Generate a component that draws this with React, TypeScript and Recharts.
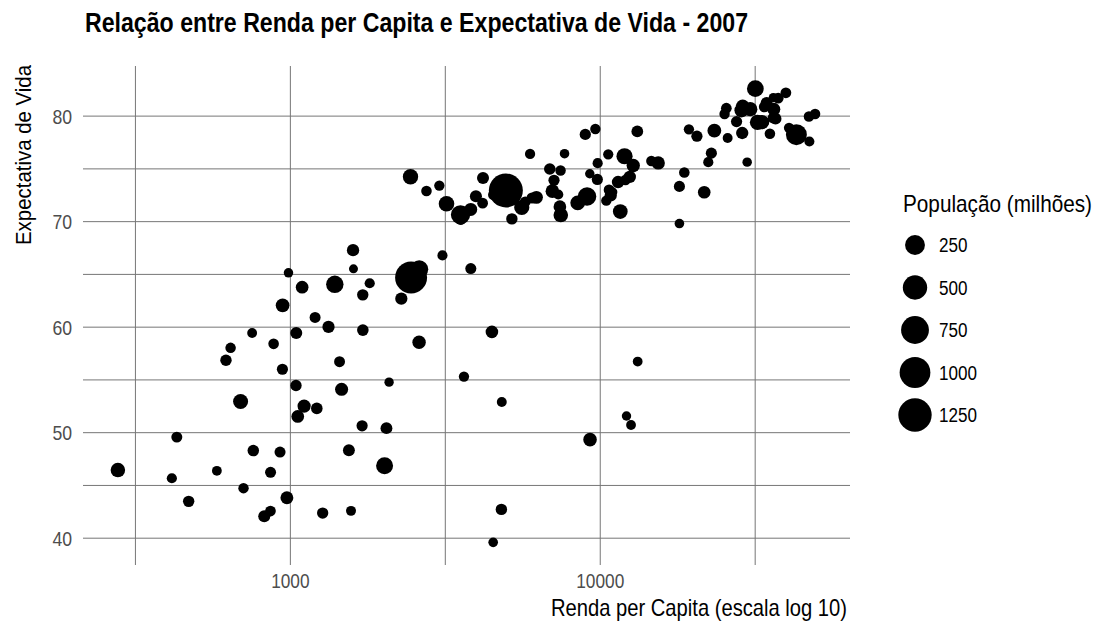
import React from "react";
import {
  ScatterChart,
  Scatter,
  XAxis,
  YAxis,
  CartesianGrid,
  Label,
} from "recharts";

const FONT = "'Liberation Sans', Arial, sans-serif";

// gapminder 2007
const countries = [
  "Afghanistan", "Albania", "Algeria", "Angola", "Argentina", "Australia", "Austria", "Bahrain",
  "Bangladesh", "Belgium", "Benin", "Bolivia", "Bosnia and Herzegovina", "Botswana", "Brazil",
  "Bulgaria", "Burkina Faso", "Burundi", "Cambodia", "Cameroon", "Canada", "Central African Republic",
  "Chad", "Chile", "China", "Colombia", "Comoros", "Congo, Dem. Rep.", "Congo, Rep.", "Costa Rica",
  "Cote d'Ivoire", "Croatia", "Cuba", "Czech Republic", "Denmark", "Djibouti", "Dominican Republic",
  "Ecuador", "Egypt", "El Salvador", "Equatorial Guinea", "Eritrea", "Ethiopia", "Finland", "France",
  "Gabon", "Gambia", "Germany", "Ghana", "Greece", "Guatemala", "Guinea", "Guinea-Bissau", "Haiti",
  "Honduras", "Hong Kong", "Hungary", "Iceland", "India", "Indonesia", "Iran", "Iraq", "Ireland",
  "Israel", "Italy", "Jamaica", "Japan", "Jordan", "Kenya", "Korea, Dem. Rep.", "Korea, Rep.",
  "Kuwait", "Lebanon", "Lesotho", "Liberia", "Libya", "Madagascar", "Malawi", "Malaysia", "Mali",
  "Mauritania", "Mauritius", "Mexico", "Mongolia", "Montenegro", "Morocco", "Mozambique", "Myanmar",
  "Namibia", "Nepal", "Netherlands", "New Zealand", "Nicaragua", "Niger", "Nigeria", "Norway", "Oman",
  "Pakistan", "Panama", "Paraguay", "Peru", "Philippines", "Poland", "Portugal", "Puerto Rico",
  "Reunion", "Romania", "Rwanda", "Sao Tome and Principe", "Saudi Arabia", "Senegal", "Serbia",
  "Sierra Leone", "Singapore", "Slovak Republic", "Slovenia", "Somalia", "South Africa", "Spain",
  "Sri Lanka", "Sudan", "Swaziland", "Sweden", "Switzerland", "Syria", "Taiwan", "Tanzania",
  "Thailand", "Togo", "Trinidad and Tobago", "Tunisia", "Turkey", "Uganda", "United Kingdom",
  "United States", "Uruguay", "Venezuela", "Vietnam", "West Bank and Gaza", "Yemen, Rep.", "Zambia",
  "Zimbabwe",
];

const gdpPercap = [
  974.6, 5937.0, 6223.4, 4797.2, 12779.4, 34435.4, 36126.5, 29796.0,
  1391.3, 33692.6, 1441.3, 3822.1, 7446.3, 12569.9, 9065.8,
  10680.8, 1217.0, 430.1, 1713.8, 2042.1, 36319.2, 706.0,
  1704.1, 13171.6, 4959.1, 7006.6, 986.1, 277.6, 3632.6, 9645.1,
  1544.8, 14619.2, 8948.1, 22833.3, 35278.4, 2082.5, 6025.4,
  6873.3, 5581.2, 5728.4, 12154.1, 641.4, 690.8, 33207.1, 30470.0,
  13206.5, 752.7, 32170.4, 1327.6, 27538.4, 5186.1, 942.7, 579.2, 1201.6,
  3548.3, 39725.0, 18008.9, 36180.8, 2452.2, 3540.7, 11605.7, 4471.1, 40676.0,
  25523.3, 28569.7, 7320.9, 31656.1, 4519.5, 1463.2, 1593.1, 23348.1,
  47307.0, 10461.1, 1569.3, 414.5, 12057.5, 1044.8, 759.3, 12451.7, 1042.6,
  1803.2, 10957.0, 11977.6, 3095.8, 9253.9, 3820.2, 823.7, 944.0,
  4811.1, 1091.4, 36797.9, 25185.0, 2749.3, 619.7, 2014.0, 49357.2, 22316.2,
  2606.0, 9809.2, 4172.8, 7408.9, 3190.5, 15389.9, 20509.6, 19328.7,
  7670.1, 10808.5, 863.1, 1598.4, 21654.8, 1712.5, 9786.5,
  862.5, 47143.2, 18678.3, 25768.3, 926.1, 9269.7, 28821.1,
  3970.1, 2602.4, 4513.5, 33859.7, 37506.4, 4184.5, 28718.3, 1107.5,
  7458.4, 883.0, 18008.5, 7092.9, 8458.3, 1056.4, 33203.3,
  42951.7, 10611.5, 11415.8, 2441.6, 3025.3, 2280.8, 1271.2,
  469.7,
];

const lifeExp = [
  43.83, 76.42, 72.30, 42.73, 75.32, 81.24, 79.83, 75.64,
  64.06, 79.44, 56.73, 65.55, 74.85, 50.73, 72.39,
  73.01, 52.30, 49.58, 59.72, 50.43, 80.65, 44.74,
  50.65, 78.55, 72.96, 72.89, 65.15, 46.46, 55.32, 78.78,
  48.33, 75.75, 78.27, 76.49, 78.33, 54.79, 72.24,
  74.99, 71.34, 71.88, 51.58, 58.04, 52.95, 79.31, 80.66,
  56.74, 59.45, 79.41, 60.02, 79.48, 70.26, 56.01, 46.39, 60.92,
  70.20, 82.21, 73.34, 81.76, 64.70, 70.65, 70.96, 59.55, 78.89,
  80.75, 80.55, 72.57, 82.60, 72.54, 54.11, 67.30, 78.62,
  77.59, 71.99, 42.59, 45.68, 73.95, 59.44, 48.30, 74.24, 54.47,
  64.16, 72.80, 76.20, 66.80, 74.54, 71.16, 42.08, 62.07,
  52.91, 63.79, 79.76, 80.20, 72.90, 56.87, 46.86, 80.20, 75.64,
  65.48, 75.54, 71.75, 71.42, 71.69, 75.56, 78.10, 78.75,
  76.44, 72.48, 46.24, 65.53, 72.78, 63.06, 74.00,
  42.57, 79.97, 74.66, 77.93, 48.16, 49.34, 80.94,
  72.40, 58.56, 39.61, 80.88, 81.70, 74.14, 78.40, 52.52,
  70.62, 58.42, 69.82, 73.92, 71.78, 51.54, 79.43,
  78.24, 76.38, 73.75, 74.25, 73.42, 62.70, 42.38,
  43.49,
];

// população em milhões
const popMillions = [
  31.89, 3.60, 33.33, 12.42, 40.30, 20.43, 8.20, 0.71,
  150.45, 10.39, 8.08, 9.12, 4.55, 1.64, 190.01,
  7.32, 14.33, 8.39, 14.13, 17.70, 33.39, 4.37,
  10.24, 16.28, 1318.68, 44.23, 0.71, 64.61, 3.80, 4.13,
  18.01, 4.49, 11.42, 10.23, 5.47, 0.50, 9.32,
  13.76, 80.26, 6.94, 0.55, 4.91, 76.51, 5.24, 61.08,
  1.45, 1.69, 82.40, 22.87, 10.71, 12.57, 9.95, 1.47, 8.50,
  7.48, 6.98, 9.96, 0.30, 1110.40, 223.55, 69.45, 27.50, 4.11,
  6.43, 58.15, 2.78, 127.47, 6.05, 35.61, 23.30, 49.04,
  2.51, 3.92, 2.01, 3.19, 6.04, 19.17, 13.33, 24.82, 12.03,
  3.27, 1.25, 108.70, 2.87, 0.68, 33.76, 19.95, 47.76,
  2.06, 28.90, 16.57, 4.12, 5.68, 12.89, 135.03, 4.63, 3.20,
  169.27, 3.24, 6.67, 28.67, 91.08, 38.52, 10.64, 3.94,
  0.80, 22.28, 8.86, 0.20, 27.60, 12.27, 10.15,
  6.14, 4.55, 5.45, 2.01, 9.12, 44.00, 40.45,
  20.38, 42.29, 1.13, 9.03, 7.55, 19.31, 23.17, 38.14,
  65.07, 5.70, 1.06, 10.28, 71.16, 29.17, 60.78,
  301.14, 3.45, 26.08, 85.26, 4.02, 22.21, 11.75,
  12.31,
];

const xTicks = [316.23, 1000, 3162.28, 10000, 31622.78];
const xLabels = [1000, 10000];
const yTicks = [40, 45, 50, 55, 60, 65, 70, 75, 80];
const yLabels = [40, 50, 60, 70, 80];
const legendBreaks = [250, 500, 750, 1000, 1250];

const data = countries.map((country, i) => ({
  country,
  gdp: gdpPercap[i],
  life: lifeExp[i],
  pop: popMillions[i],
}));

const popMin = Math.min(...popMillions);
const popMax = Math.max(...popMillions);
// tamanho como ggplot (area_pal): diametro de 9 a 34 px
const radius = (pop: number) =>
  (9 + 25 * Math.sqrt(Math.max(0, (pop - popMin) / (popMax - popMin)))) / 2;

const GRID = "#767676";

const Bubble = (props: any) => {
  const { cx, cy, payload } = props;
  if (cx == null || cy == null) return null;
  return <circle cx={cx} cy={cy} r={radius(payload.pop)} fill="#000" />;
};

// texto "estreito": comprime com textLength
const XTick = (props: any) => {
  const { x, y, payload } = props;
  const v = payload.value;
  if (!xLabels.some((l) => Math.abs(l - v) < 1e-6)) return null;
  const s = String(v);
  return (
    <text
      x={x}
      y={y}
      dy={23}
      textAnchor="middle"
      fontFamily={FONT}
      fontSize={21}
      fill="#4d4d4d"
      textLength={s.length * 9.6}
      lengthAdjust="spacingAndGlyphs"
    >
      {s}
    </text>
  );
};

const YTick = (props: any) => {
  const { x, y, payload } = props;
  const v = payload.value;
  if (!yLabels.includes(v)) return null;
  const s = String(v);
  return (
    <text
      x={x}
      y={y}
      dy={7.5}
      textAnchor="end"
      fontFamily={FONT}
      fontSize={21}
      fill="#4d4d4d"
      textLength={s.length * 9.8}
      lengthAdjust="spacingAndGlyphs"
    >
      {s}
    </text>
  );
};

const SizeLegend = () => (
  <svg
    width={209}
    height={260}
    style={{ position: "absolute", left: 888, top: 180 }}
  >
    <text
      x={15}
      y={32}
      fontFamily={FONT}
      fontSize={24}
      fill="#000"
      textLength={189}
      lengthAdjust="spacingAndGlyphs"
    >
      População (milhões)
    </text>
    {legendBreaks.map((b, i) => {
      const cy = 65 + i * 42.5;
      const s = String(b);
      return (
        <g key={b}>
          <circle cx={27} cy={cy} r={radius(b)} fill="#000" />
          <text
            x={51}
            y={cy + 7}
            fontFamily={FONT}
            fontSize={19.5}
            fill="#000"
            textLength={s.length * 9.5}
            lengthAdjust="spacingAndGlyphs"
          >
            {s}
          </text>
        </g>
      );
    })}
  </svg>
);

export default function App() {
  return (
    <div
      style={{
        position: "absolute",
        left: 0,
        top: 0,
        width: 1099,
        height: 627,
        background: "#fff",
      }}
    >
      <svg
        width={1099}
        height={50}
        style={{ position: "absolute", left: 0, top: 0 }}
      >
        <text
          x={85}
          y={32}
          fontFamily={FONT}
          fontWeight="bold"
          fontSize={27}
          fill="#000"
          textLength={663}
          lengthAdjust="spacingAndGlyphs"
        >
          Relação entre Renda per Capita e Expectativa de Vida - 2007
        </text>
      </svg>
      <ScatterChart
        width={1099}
        height={627}
        margin={{ top: 66, right: 249, bottom: 0, left: 0 }}
      >
        <CartesianGrid stroke={GRID} strokeWidth={1} syncWithTicks />
        <XAxis
          type="number"
          dataKey="gdp"
          scale="log"
          domain={[214.2, 63970]}
          allowDataOverflow
          ticks={xTicks}
          axisLine={false}
          tickLine={false}
          tickSize={0}
          tickMargin={0}
          height={62}
          tick={<XTick />}
          interval={0}
        >
          <Label
            content={(p: any) => (
              <text
                x={p.viewBox.x + p.viewBox.width - 3}
                y={p.viewBox.y + 51}
                textAnchor="end"
                fontFamily={FONT}
                fontSize={24}
                fill="#000"
                textLength={296}
                lengthAdjust="spacingAndGlyphs"
              >
                Renda per Capita (escala log 10)
              </text>
            )}
          />
        </XAxis>
        <YAxis
          type="number"
          dataKey="life"
          domain={[37.46, 84.75]}
          allowDataOverflow
          ticks={yTicks}
          axisLine={false}
          tickLine={false}
          tickSize={0}
          tickMargin={11}
          width={83}
          tick={<YTick />}
          interval={0}
        >
          <Label
            content={(p: any) => (
              <text
                transform={`translate(31, ${p.viewBox.y - 1}) rotate(-90)`}
                textAnchor="end"
                fontFamily={FONT}
                fontSize={22}
                fill="#000"
                textLength={180}
                lengthAdjust="spacingAndGlyphs"
              >
                Expectativa de Vida
              </text>
            )}
          />
        </YAxis>
        <Scatter
          data={data}
          shape={<Bubble />}
          isAnimationActive={false}
          legendType="none"
        />
      </ScatterChart>
      <SizeLegend />
    </div>
  );
}
